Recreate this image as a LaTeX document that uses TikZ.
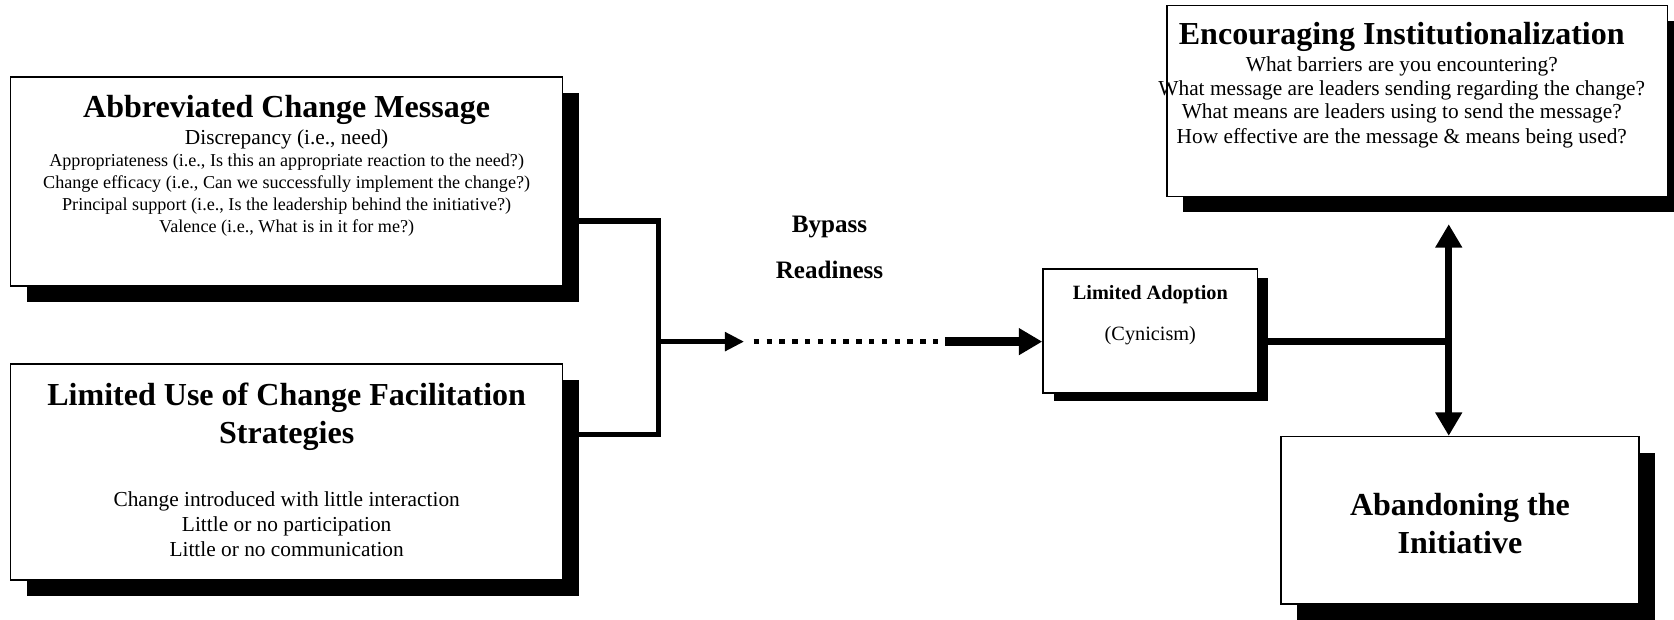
\documentclass[tikz,border=0pt]{standalone}
\usepackage{fontspec}
\setmainfont{Liberation Serif}
\usetikzlibrary{shadows,arrows.meta}
\tikzset{
  box/.style={draw, line width=1.5pt, fill=white, minimum width=#1, inner sep=0pt},
  bigshadow/.style={drop shadow={shadow xshift=15pt, shadow yshift=-15pt, fill=black, opacity=1}},
  smallshadow/.style={drop shadow={shadow xshift=10pt, shadow yshift=-8pt, fill=black, opacity=1}},
  ttl/.style={anchor=base, inner sep=0pt, font=\fontsize{30}{34}\selectfont\bfseries},
  txt/.style={anchor=base, inner sep=0pt, font=\fontsize{20}{22}\selectfont},
  sml/.style={anchor=base, inner sep=0pt, font=\fontsize{17}{20}\selectfont},
  conn/.style={line width=5pt},
}
\begin{document}
\begin{tikzpicture}[x=1pt,y=1pt]
\fill[white] (0,0) rectangle (1568,580);
\useasboundingbox (0,0) rectangle (1568,580);

% boxes
\node[box=517pt, minimum height=196pt, bigshadow] (A) at (268.5,410) {};
\node[box=517pt, minimum height=202pt, bigshadow] (B) at (268.5,138) {};
\node[box=201pt, minimum height=116pt, smallshadow] (C) at (1077.5,270) {};
\node[box=469pt, minimum height=179pt, bigshadow] (D) at (1327.5,485.5) {};
\node[box=335pt, minimum height=157pt, bigshadow] (E) at (1367.5,92.5) {};

% box A text
\node[ttl] (a0) at (268.5,470) {Abbreviated Change Message};
\node[txt] (a1) at (268.5,445) {Discrepancy (i.e., need)};
\node[sml] (a2) at (268.5,424) {Appropriateness (i.e., Is this an appropriate reaction to the need?)};
\node[sml] (a3) at (268.5,403) {Change efficacy (i.e., Can we successfully implement the change?)};
\node[sml] (a4) at (268.5,383) {Principal support (i.e., Is the leadership behind the initiative?)};
\node[sml] (a5) at (268.5,362) {Valence (i.e., What is in it for me?)};

% box B text
\node[ttl] (b0) at (268.5,200) {Limited Use of Change Facilitation};
\node[ttl] (b1) at (268.5,165) {Strategies};
\node[txt] (b2) at (268.5,106) {Change introduced with little interaction};
\node[txt] (b3) at (268.5,82) {Little or no participation};
\node[txt] (b4) at (268.5,59) {Little or no communication};

% box C text
\node[anchor=base, inner sep=0pt, font=\fontsize{19}{22}\selectfont\bfseries] (c0) at (1077.5,299) {Limited Adoption};
\node[anchor=base, inner sep=0pt, font=\fontsize{19}{22}\selectfont] (c1) at (1077.5,261) {(Cynicism)};

% box D text
\node[ttl] (d0) at (1313,538) {Encouraging Institutionalization};
\node[txt] (d1) at (1313,513) {What barriers are you encountering?};
\node[txt] (d2) at (1313,491) {What message are leaders sending regarding the change?};
\node[txt] (d3) at (1313,469) {What means are leaders using to send the message?};
\node[txt] (d4) at (1313,446) {How effective are the message \& means being used?};

% box E text
\node[ttl] (e0) at (1367.5,97) {Abandoning the};
\node[ttl] (e1) at (1367.5,62) {Initiative};

% labels
\node[anchor=base, inner sep=0pt, font=\fontsize{23.5}{26}\selectfont\bfseries] (l1) at (777,362) {Bypass};
\node[anchor=base, inner sep=0pt, font=\fontsize{23.5}{26}\selectfont\bfseries] (l2) at (777,319) {Readiness};

% connectors
\coordinate (ya) at (0,373);
\coordinate (yb) at (0,173);
\coordinate (jt) at (617,373);
\coordinate (jb) at (617,173);
\coordinate (jm) at (617,260);
\coordinate (p1) at (697,260);
\coordinate (p2) at (706,260);
\coordinate (p3) at (885,260);
\draw[conn, line cap=butt, line join=miter] ([xshift=8pt]A.east |- ya) -- (jt) -- (jb) -- ([xshift=8pt]B.east |- yb);
\draw[conn, -{Triangle[length=18pt,width=17pt]}] (jm) -- (p1);
\draw[line width=5pt, dash pattern=on 5pt off 7pt] (p2) -- (p3);
\draw[line width=8pt, -{Triangle[length=22pt,width=24pt]}] (p3) -- (C.west |- p3);

\coordinate (jx) at (1357,260);
\coordinate (jup) at (1357,370);
\draw[line width=6pt] ([xshift=6pt]C.east |- jx) -- (jx);
\draw[line width=7pt, {Triangle[length=22pt,width=24pt]}-{Triangle[length=22pt,width=24pt]}] (jup) -- (E.north -| jx);
\end{tikzpicture}
\end{document}
